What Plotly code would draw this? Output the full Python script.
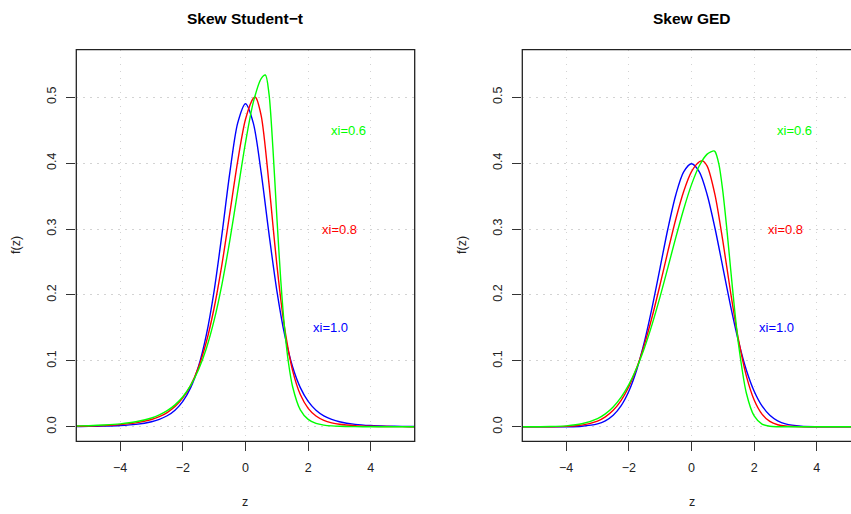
import plotly.graph_objects as go

# ---------------- data ----------------
# Skew Student-t panel
t_x_xi10 = [-6, -5.5, -5, -4.5, -4, -3.5, -3, -2.75, -2.5, -2.25, -2, -1.75, -1.5, -1.25, -1, -0.75,
            -0.5, -0.25, 0, 0.25, 0.5, 0.75, 1, 1.25, 1.5, 1.75, 2, 2.25, 2.5, 2.75, 3, 3.5, 4, 4.5, 5, 5.5, 6]
t_y_xi10 = [0.00022, 0.00036, 0.00060, 0.00105, 0.00193, 0.00373, 0.00766, 0.01123, 0.01672, 0.02525,
            0.03858, 0.05938, 0.09144, 0.1393, 0.2067, 0.2927, 0.3854, 0.4607, 0.4901, 0.4607, 0.3854,
            0.2927, 0.2067, 0.1393, 0.09144, 0.05938, 0.03858, 0.02525, 0.01672, 0.01123, 0.00766,
            0.00373, 0.00193, 0.00105, 0.00060, 0.00036, 0.00022]

t_x_xi08 = [-6, -5.5, -5, -4.5, -4, -3.5, -3, -2.75, -2.5, -2.25, -2, -1.75, -1.5, -1.25, -1, -0.75,
            -0.5, -0.25, 0, 0.25, 0.316, 0.5, 0.75, 0.875, 1, 1.125, 1.25, 1.5, 1.75, 2, 2.25, 2.5, 2.75,
            3, 3.5, 4, 4.5, 5, 5.5, 6]
t_y_xi08 = [0.00046, 0.00071, 0.00114, 0.00190, 0.00327, 0.00588, 0.01104, 0.01536, 0.02160, 0.03065,
            0.04381, 0.06289, 0.09023, 0.12862, 0.18058, 0.24683, 0.32405, 0.40257, 0.46642, 0.49831,
            0.49985, 0.47214, 0.36843, 0.30605, 0.24632, 0.19345, 0.14923, 0.08606, 0.04891, 0.02799,
            0.01632, 0.00975, 0.00598, 0.00377, 0.00161, 0.00075, 0.00038, 0.00020, 0.00012, 0.00008]

t_x_xi06 = [-6, -5.5, -5, -4.5, -4, -3.5, -3, -2.75, -2.5, -2.25, -2, -1.75, -1.5, -1.25, -1, -0.75,
            -0.5, -0.25, 0, 0.25, 0.5, 0.635, 0.75, 0.875, 1, 1.125, 1.25, 1.375, 1.5, 1.75, 2, 2.25,
            2.5, 2.75, 3, 3.5, 4, 4.5, 5, 5.5, 6]
t_y_xi06 = [0.00072, 0.00109, 0.00169, 0.00271, 0.00446, 0.00760, 0.01340, 0.01801, 0.02440, 0.03329,
            0.04566, 0.06287, 0.08660, 0.11887, 0.16171, 0.21652, 0.28288, 0.35710, 0.43101, 0.49243,
            0.52829, 0.53362, 0.50504, 0.42248, 0.31869, 0.22276, 0.14821, 0.09601, 0.06157, 0.02561,
            0.01119, 0.00522, 0.00260, 0.00137, 0.00076, 0.00027, 0.00011, 0.00005, 0.00003, 0.00002,
            0.00001]

# Skew GED panel
g_x_xi10 = [-6, -5.5, -5, -4.5, -4, -3.5, -3, -2.75, -2.5, -2.25, -2, -1.75, -1.5, -1.25, -1, -0.75,
            -0.5, -0.25, 0, 0.25, 0.5, 0.75, 1, 1.25, 1.5, 1.75, 2, 2.25, 2.5, 2.75, 3, 3.5, 4, 4.5, 5, 5.5, 6]
g_y_xi10 = [0.0, 0.0, 0.0, 0.00002, 0.00013, 0.00087, 0.00443, 0.00909, 0.01753, 0.03174, 0.05399,
            0.08628, 0.12952, 0.18265, 0.24197, 0.30114, 0.35207, 0.38667, 0.39894, 0.38667, 0.35207,
            0.30114, 0.24197, 0.18265, 0.12952, 0.08628, 0.05399, 0.03174, 0.01753, 0.00909, 0.00443,
            0.00087, 0.00013, 0.00002, 0.0, 0.0, 0.0]

g_x_xi08 = [-6, -5.5, -5, -4.5, -4, -3.5, -3, -2.75, -2.5, -2.25, -2, -1.75, -1.5, -1.25, -1, -0.75,
            -0.5, -0.25, 0, 0.25, 0.347, 0.5, 0.75, 1, 1.25, 1.5, 1.75, 2, 2.25, 2.5, 2.75, 3, 3.5, 4,
            4.5, 5, 5.5, 6]
g_y_xi08 = [0.0, 0.0, 0.00002, 0.00013, 0.00061, 0.00250, 0.00860, 0.01496, 0.02493, 0.03979, 0.06083,
            0.08909, 0.12500, 0.16800, 0.21632, 0.26683, 0.31527, 0.35687, 0.38698, 0.40199, 0.40328,
            0.39539, 0.35181, 0.28187, 0.20336, 0.13211, 0.07728, 0.04071, 0.01931, 0.00825, 0.00317,
            0.00110, 0.00010, 0.00001, 0.0, 0.0, 0.0, 0.0]

g_x_xi06 = [-6, -5.5, -5, -4.5, -4, -3.5, -3, -2.75, -2.5, -2.25, -2, -1.75, -1.5, -1.25, -1, -0.75,
            -0.5, -0.25, 0, 0.25, 0.5, 0.716, 0.75, 0.875, 1, 1.125, 1.25, 1.375, 1.5, 1.75, 2, 2.25,
            2.5, 2.75, 3, 3.5, 4, 4.5, 5, 5.5, 6]
g_y_xi06 = [0.00001, 0.00002, 0.00010, 0.00041, 0.00146, 0.00455, 0.01247, 0.01969, 0.03013, 0.04464,
            0.06408, 0.08910, 0.12000, 0.15656, 0.19787, 0.24226, 0.28731, 0.33008, 0.36734, 0.39602,
            0.41357, 0.41850, 0.41754, 0.39820, 0.35716, 0.30129, 0.23903, 0.17836, 0.12516, 0.05128,
            0.01644, 0.00412, 0.00081, 0.00012, 0.00002, 0.0, 0.0, 0.0, 0.0, 0.0, 0.0]

series_labels = ["xi=1.0", "xi=0.8", "xi=0.6"]
series_colors = ["#0000FF", "#FF0000", "#00FF00"]
label_x = [2.7, 3.0, 3.3]
label_y = [0.15, 0.30, 0.45]
panel_titles = ["Skew Student\u2212t", "Skew GED"]
x_ticks = [-4, -2, 0, 2, 4]
y_ticks = [0.0, 0.1, 0.2, 0.3, 0.4, 0.5]
y_tick_text = ["0.0", "0.1", "0.2", "0.3", "0.4", "0.5"]

# ---------------- figure ----------------
W, H = 851, 514
FONT = "Liberation Sans, Arial, Helvetica, sans-serif"

fig = go.Figure()

panels = [
    ("x", "y", [(t_x_xi10, t_y_xi10), (t_x_xi08, t_y_xi08), (t_x_xi06, t_y_xi06)]),
    ("x2", "y2", [(g_x_xi10, g_y_xi10), (g_x_xi08, g_y_xi08), (g_x_xi06, g_y_xi06)]),
]
for xa, ya, curves in panels:
    for (xs, ys), col, name in zip(curves, series_colors, series_labels):
        fig.add_trace(go.Scatter(x=xs, y=ys, mode="lines", xaxis=xa, yaxis=ya, name=name,
                                 line=dict(color=col, width=1.4, shape="spline", smoothing=0.8),
                                 showlegend=False, hoverinfo="skip"))
    for lx, ly, col, name in zip(label_x, label_y, series_colors, series_labels):
        fig.add_annotation(x=lx, y=ly, xref=xa, yref=ya, text=name, showarrow=False,
                           font=dict(color=col, size=13, family=FONT))

# pixel geometry
L1, R1 = 76.3, 414.7
L2 = 522.3
TOP, BOT = 49.7, 441.3
ppu = (R1 - L1) / 10.8
x2_max = -5.4 + (W - L2) / ppu

ydom = [(H - BOT) / H, (H - TOP) / H]
axis_common = dict(showgrid=True, gridcolor="#D3D3D3", griddash="1.5px,5.5px", gridwidth=1.2,
                   zeroline=False, ticks="outside", ticklen=9, tickwidth=1, tickcolor="#333333",
                   showline=False, tickfont=dict(size=12.5, family=FONT, color="#222222"))

fig.update_layout(
    width=W, height=H, margin=dict(l=0, r=0, t=0, b=0),
    paper_bgcolor="white", plot_bgcolor="white", showlegend=False,
    xaxis=dict(domain=[L1 / W, R1 / W], range=[-5.4, 5.4], tickvals=x_ticks, anchor="y",
               ticklabelstandoff=6, **axis_common),
    yaxis=dict(domain=ydom, range=[-0.022, 0.572], tickvals=y_ticks, ticktext=y_tick_text,
               tickangle=-90, anchor="x", ticklabelstandoff=5, **axis_common),
    xaxis2=dict(domain=[L2 / W, 1.0], range=[-5.4, x2_max], tickvals=x_ticks, anchor="y2",
                ticklabelstandoff=6, **axis_common),
    yaxis2=dict(domain=ydom, range=[-0.022, 0.572], tickvals=y_ticks, ticktext=y_tick_text,
                tickangle=-90, anchor="x2", ticklabelstandoff=5, **axis_common),
)

# plot boxes
fig.add_shape(type="rect", xref="x domain", yref="y domain", x0=0, x1=1, y0=0, y1=1,
              line=dict(color="#222222", width=1.3), fillcolor="rgba(0,0,0,0)", layer="above")
fig.add_shape(type="rect", xref="x2 domain", yref="y2 domain", x0=0, x1=1.1, y0=0, y1=1,
              line=dict(color="#222222", width=1.3), fillcolor="rgba(0,0,0,0)", layer="above")

# titles and axis labels
centers = [245.3, 691.7]
for cx, title in zip(centers, panel_titles):
    fig.add_annotation(x=cx / W, y=(H - 18.5) / H, xref="paper", yref="paper", text="<b>" + title + "</b>",
                       showarrow=False, font=dict(size=15.5, family=FONT, color="black"),
                       xanchor="center", yanchor="middle")
    fig.add_annotation(x=cx / W, y=(H - 502) / H, xref="paper", yref="paper", text="z",
                       showarrow=False, font=dict(size=12.5, family=FONT, color="#222222"),
                       xanchor="center", yanchor="middle")
for fx in [16, 462]:
    fig.add_annotation(x=fx / W, y=(H - 245) / H, xref="paper", yref="paper", text="f(z)",
                       showarrow=False, textangle=-90, font=dict(size=12.5, family=FONT, color="#222222"),
                       xanchor="center", yanchor="middle")

fig.write_html("out.html")
